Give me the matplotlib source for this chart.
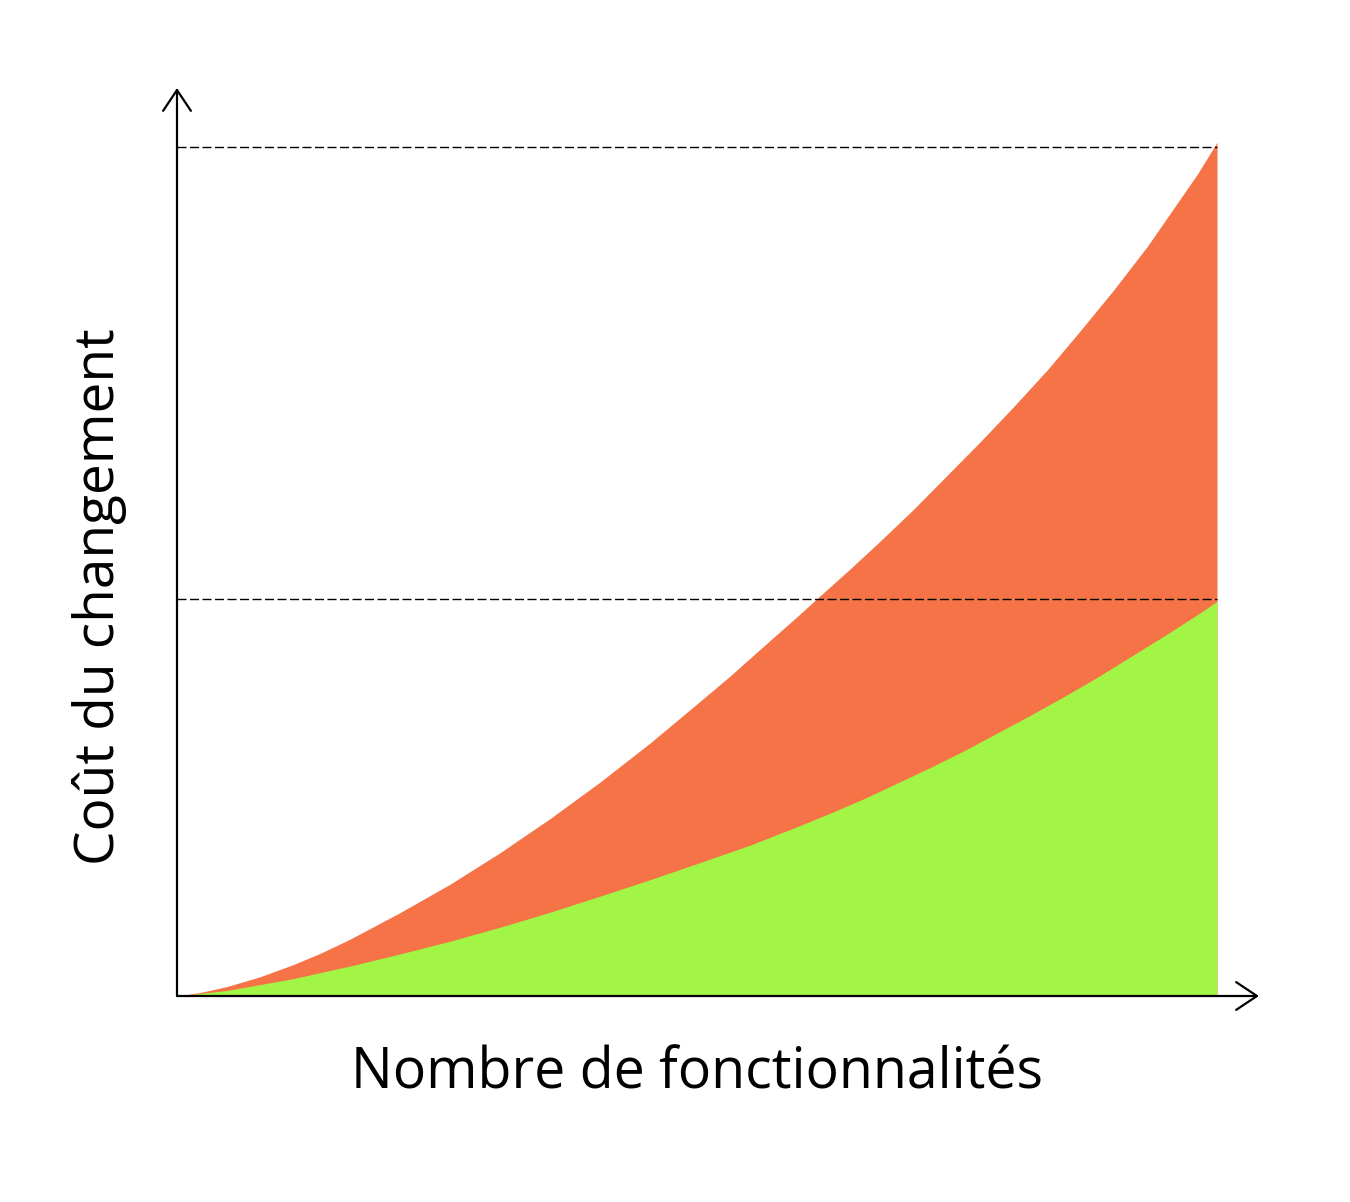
import matplotlib
matplotlib.use("Agg")
import matplotlib.pyplot as plt

plt.rcParams['font.family'] = ['Open Sans', 'DejaVu Sans']

features_haut = [0.0, 0.22, 0.48, 0.80, 1.12, 1.38, 1.66, 2.14, 2.63, 3.11,
                 3.59, 4.07, 4.55, 5.0, 5.32, 5.64, 5.96, 6.18, 6.47, 6.76,
                 7.08, 7.40, 7.72, 8.04, 8.37, 8.68, 9.0, 9.33, 9.64, 9.81,
                 10.0]
cout_haut = [0.0, 0.41, 1.11, 2.27, 3.71, 5.04, 6.67, 9.79, 13.2, 16.91,
             20.92, 25.22, 29.81, 34.41, 37.71, 41.2, 44.66, 47.1, 50.28,
             53.57, 57.3, 61.27, 65.24, 69.36, 73.77, 78.28, 83.06, 88.3,
             93.78, 96.79, 100.55]

features_bas = [0.0, 0.48, 1.12, 1.66, 2.14, 2.63, 3.11, 3.59, 4.07, 4.55,
                5.0, 5.51, 5.96, 6.28, 6.61, 6.92, 7.24, 7.57, 7.88, 8.20,
                8.53, 8.85, 9.16, 9.49, 9.81, 10.0]
cout_bas = [0.0, 0.65, 2.05, 3.52, 4.94, 6.47, 8.12, 9.88, 11.77, 13.71,
            15.59, 17.77, 19.93, 21.53, 23.27, 25.05, 26.9, 28.9, 30.93,
            33.03, 35.28, 37.55, 39.9, 42.4, 44.91, 46.48]

niveaux = [100.0, 46.76]

ORANGE = "#F57346"
VERT = "#A2F545"

fig = plt.figure(figsize=(13.5, 12.02), dpi=100)
W, H = 1350, 1202
x0, x1 = 177, 1259
y0, y1 = 88, 996
ax = fig.add_axes([x0 / W, 1 - y1 / H, (x1 - x0) / W, (y1 - y0) / H])

xmax = (x1 - x0) / 1040 * 10
ymax = (y1 - y0) / 849 * 100
ax.set_xlim(0, xmax)
ax.set_ylim(0, ymax)

ax.fill_between(features_haut, 0, cout_haut, color=ORANGE, lw=0)
ax.fill_between(features_bas, 0, cout_bas, color=VERT, lw=0)

for niv in niveaux:
    ax.plot([0, features_haut[-1]], [niv, niv], color="black", lw=1.0,
            linestyle=(0, (6.5, 2.5)))

fleche = dict(arrowstyle="->,head_length=0.75,head_width=0.5",
              mutation_scale=20, lw=1.6, color="black",
              shrinkA=0, shrinkB=0)
ax.annotate("", xy=(xmax, 0), xytext=(0, 0), arrowprops=fleche,
            annotation_clip=False)
ax.annotate("", xy=(0, ymax), xytext=(0, 0), arrowprops=fleche,
            annotation_clip=False)

for s in ax.spines.values():
    s.set_visible(False)
ax.set_xticks([])
ax.set_yticks([])

fig.text(697 / W, 1 - 1074 / H, "Nombre de fonctionnalités", fontsize=40,
         ha="center", va="center")
fig.text(100 / W, 1 - 597 / H, "Coût du changement", fontsize=39.5,
         ha="center", va="center", rotation=90)

fig.savefig("out.png", dpi=100)
